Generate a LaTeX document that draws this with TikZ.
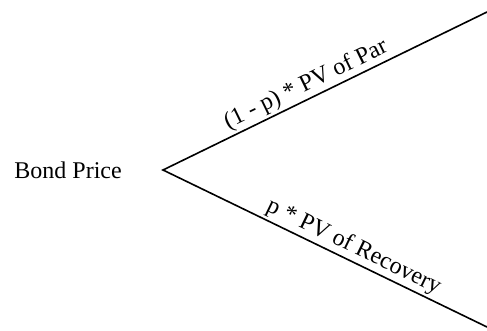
\documentclass[tikz,border=0pt]{standalone}
\usepackage{fontspec}
\setmainfont{Liberation Serif}
\usetikzlibrary{positioning}
\tikzset{
      branch/.style={
        draw=black,
        line width=1.6pt,
        line join=miter
      },
      branchlabel/.style={
        sloped,
        above,
        inner sep=2pt,
        font=\fontsize{24}{28}\selectfont
      },
      rootlabel/.style={
        font=\fontsize{24}{28}\selectfont,
        inner sep=0pt
      }
    }

\begin{document}
\begin{tikzpicture}[x=1pt,y=1pt]
    \useasboundingbox (0,0) rectangle (487,330);
    \coordinate (root) at (163,160);
    \coordinate (par) at (487,318);
    \coordinate (rec) at (487,3);
    \node[rootlabel, left=41pt of root] (price) {Bond Price};
    \draw[branch] (par) -- node[branchlabel, pos=0.54] (parlabel) {(1 - p) * PV of Par}
      (root) -- node[branchlabel, pos=0.57] (reclabel) {p * PV of Recovery} (rec);
    \end{tikzpicture}
\end{document}
